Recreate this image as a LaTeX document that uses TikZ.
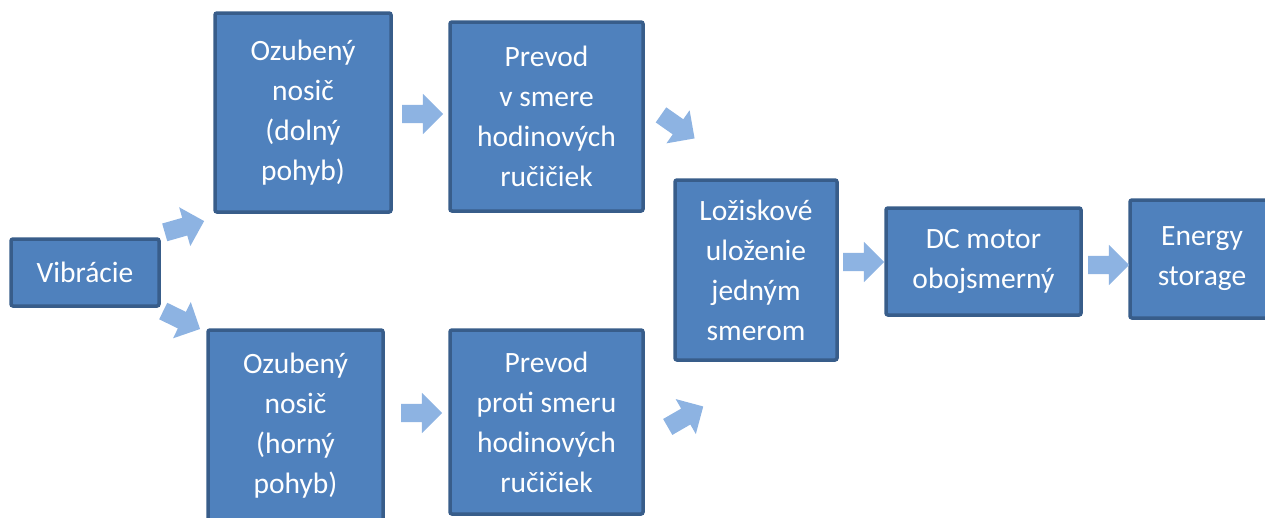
\documentclass[tikz,border=0pt]{standalone}
\usepackage{fontspec}
\setmainfont{Carlito}
\usepackage{tikz}
\usetikzlibrary{positioning,calc,shapes.arrows}

\definecolor{boxfill}{HTML}{4F81BD}
\definecolor{boxline}{HTML}{385D8A}
\definecolor{arrfill}{HTML}{8DB3E2}

\tikzset{
  blok/.style={draw=boxline,fill=boxfill,line width=3.5pt,rounded corners=2pt,
    text=white,align=center,inner sep=0pt,
    font=\fontsize{29.5}{40}\selectfont},
  sipka/.style={single arrow,fill=arrfill,draw=none,inner xsep=0pt,inner ysep=9pt,
    minimum height=41pt,minimum width=0pt,single arrow head extend=11pt}
}

\begin{document}
\begin{tikzpicture}[x=1pt,y=-1pt]
      \useasboundingbox (0,0) rectangle (1265,517);

      \node[blok,minimum width=148pt,minimum height=67pt] (vib) at (85,272.5) {Vibrácie};

      \node[blok,minimum width=176pt,minimum height=199pt] (dol) at (303,112.5) {Ozubený\\nosič\\(dolný\\pohyb)};
      \node[blok,minimum width=175pt,minimum height=192pt] (hor) at (295.5,426) {Ozubený\\nosič\\(horný\\pohyb)};

      \node[blok,minimum width=193pt,minimum height=189pt] (smer) at (546.5,116.5) {Prevod\\v smere\\hodinových\\ručičiek};
      \node[blok,minimum width=193pt,minimum height=184pt] (proti) at (546.5,422) {Prevod\\proti smeru\\hodinových\\ručičiek};

      \node[blok,minimum width=162pt,minimum height=180pt] (loz) at (756,270) {Ložiskové\\uloženie\\jedným\\smerom};
      \node[blok,minimum width=195pt,minimum height=107pt] (dc) at (983.5,261.5) {DC motor\\obojsmerný};
      \node[blok,minimum width=144pt,minimum height=118pt] (es) at (1202,259) {Energy\\storage};

      % sipky
      \node[sipka,rotate=16] (s1) at (180,228) {};
      \node[sipka,rotate=-26] (s2) at (177.5,318) {};
      \node[sipka] (s3) at (418,114) {};
      \node[sipka] (s4) at (417,413) {};
      \node[sipka,rotate=-35] (s5) at (674,124) {};
      \node[sipka,rotate=30] (s6) at (681.5,419) {};
      \node[sipka] (s7) at (859,262) {};
      \node[sipka] (s8) at (1104,265) {};
\end{tikzpicture}
\end{document}
